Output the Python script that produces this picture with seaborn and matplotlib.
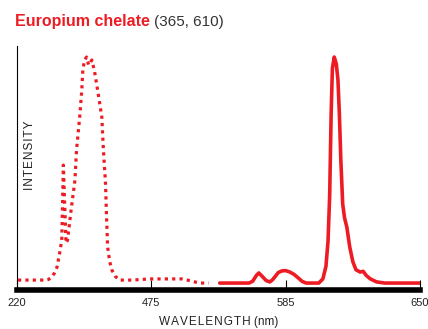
import numpy as np
import seaborn as sns
import matplotlib.pyplot as plt

red = '#ED1C24'

# excitation (dotted) and emission (solid) spectra, intensity in % of max
ex_nm = [222, 273, 280, 286, 291, 296, 301, 305, 308, 313, 316, 322, 330, 333,
         339, 343, 345, 348, 352, 356, 359, 362, 367, 373, 381, 384, 388, 390,
         392, 396, 400, 407, 415, 439, 471, 500, 508, 514, 522]
ex_int = [3.0, 3.0, 3.3, 4.3, 6.0, 8.7, 14.8, 20.4, 53.0, 19.1, 20.4, 32.2,
          46.5, 59.6, 73.9, 85.7, 94.3, 98.5, 100, 96.5, 97.5, 98.7, 94.0,
          85.7, 73.9, 59.6, 45.2, 30.4, 17.4, 11.0, 7.4, 4.5, 3.0, 3.0, 3.5,
          3.5, 2.6, 1.7, 1.7]

em_nm = [531, 555, 558, 561, 563, 566, 569, 572, 574, 576, 579, 582, 585, 587,
         589, 591, 593, 595, 601, 603, 604.5, 605.5, 606.3, 607, 607.6, 608.5,
         609.5, 610.3, 611, 611.7, 612.6, 613.5, 614.6, 616, 617.5, 619, 621,
         622.5, 624, 626, 629, 633, 650]
em_int = [1.7, 1.7, 2.5, 5.0, 6.1, 4.5, 2.8, 2.2, 3.0, 4.3, 6.3, 7.0, 7.1, 6.5,
          5.5, 4.0, 2.4, 1.7, 1.7, 3.5, 9.0, 20.0, 40.0, 75.0, 95.0, 100, 97.0,
          90.0, 75.0, 55.0, 36.0, 30.0, 26.0, 17.4, 11.0, 7.5, 6.5, 6.8, 5.0,
          3.5, 2.2, 1.7, 1.7]

tick_nm = [220, 475, 585, 650]
tick_pos = [0, 1, 2, 3]

sns.set_style('white')
plt.rcParams['font.family'] = ['Liberation Sans', 'DejaVu Sans']

fig = plt.figure(figsize=(4.28, 3.29), dpi=100)
ax = fig.add_axes([17/428, 1 - 289.5/329, 403/428, (289.5 - 46)/329])


# the wavelength axis is stretched piecewise: equal room between the ticks
def fwd(v):
  return np.interp(v, tick_nm, tick_pos)


def inv(v):
  return np.interp(v, tick_pos, tick_nm)


ax.set_xscale('function', functions=(fwd, inv))

sns.lineplot(x=ex_nm, y=ex_int, ax=ax, color=red, lw=2.3,
             linestyle=(0, (1, 1.3)), sort=False, estimator=None)
sns.lineplot(x=em_nm, y=em_int, ax=ax, color=red, lw=2.6,
             sort=False, estimator=None)

ax.set_xlim(220, 650)
ax.set_ylim(-1.1, 104.8)
ax.set_xticks(tick_nm)
ax.set_xticklabels([str(t) for t in tick_nm], fontsize=8, color='#222222')
ax.set_yticks([])
ax.tick_params(axis='x', direction='in', length=7.5, width=0.8, pad=6,
               color='black', bottom=True)
ax.set_xlabel('')
ax.set_ylabel('')

for side in ['top', 'right']:
  ax.spines[side].set_visible(False)
ax.spines['bottom'].set_linewidth(4)
ax.spines['bottom'].set_color('black')
ax.spines['left'].set_linewidth(0.8)
ax.spines['left'].set_color('black')

hs = '\u200a'
fig.text(30/428, 1 - 155/329, hs.join('INTENSITY'), rotation=90,
         ha='center', va='center', fontsize=8.5, color='#222222')
fig.text(219/428, 1 - 322/329, hs.join('WAVELENGTH') + ' (nm)',
         ha='center', va='center', fontsize=8.5, color='#222222')

t1 = fig.text(15/428, 1 - 29/329, 'Europium chelate', fontsize=11.5,
              fontweight='bold', color=red, va='bottom')
ax.annotate('(365, 610)', xy=(1, 0), xycoords=t1, xytext=(3, 0),
            textcoords='offset points', va='bottom', fontsize=11,
            color='#333333')

fig.savefig('out.png', dpi=100)
